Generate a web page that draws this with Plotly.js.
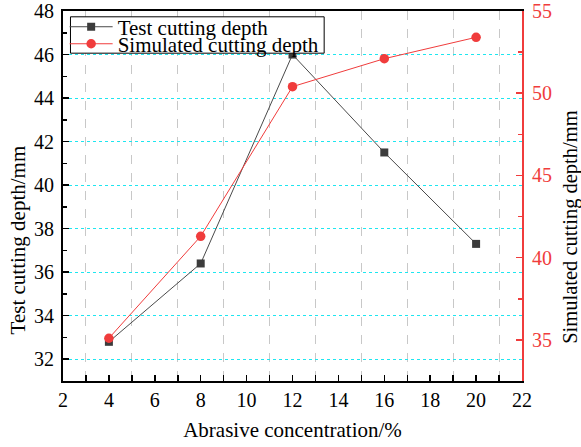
<!DOCTYPE html>
<html>
<head>
<meta charset="utf-8">
<script src="https://cdn.plot.ly/plotly-3.0.1.min.js"></script>
<style>html,body{margin:0;padding:0;background:#fff;}#chart{width:581px;height:447px;}</style>
</head>
<body>
<div id="chart"></div>
<script>
const concentration = [4, 8, 12, 16, 20];
const testDepth = [32.8, 36.4, 46.0, 41.5, 37.3];
const simulatedDepth = [35.1, 41.3, 50.4, 52.1, 53.4];
const seriesNames = ['Test cutting depth', 'Simulated cutting depth'];
const axisTitles = ['Abrasive concentration/%', 'Test cutting depth/mm', 'Simulated cutting depth/mm'];

const serif = '"Liberation Serif", "Times New Roman", serif';
const red = '#f03c3c';

const traces = [
  {
    x: concentration, y: testDepth, name: seriesNames[0], type: 'scatter', mode: 'lines+markers',
    line: {color: '#4a4a4a', width: 1},
    marker: {symbol: 'square', size: 8, color: '#3c3c3c'},
    yaxis: 'y', legend: 'legend'
  },
  {
    x: concentration, y: simulatedDepth, name: seriesNames[1], type: 'scatter', mode: 'lines+markers',
    line: {color: red, width: 1},
    marker: {symbol: 'circle', size: 9.5, color: red},
    yaxis: 'y2', legend: 'legend2'
  }
];

const legendCommon = {
  xanchor: 'left', yanchor: 'middle', x: 0.0036,
  bgcolor: 'rgba(0,0,0,0)', borderwidth: 0,
  font: {family: serif, size: 21, color: '#000'},
  itemwidth: 43
};

const layout = {
  width: 581, height: 447,
  margin: {l: 62.5, r: 59, t: 11, b: 66, autoexpand: false},
  paper_bgcolor: '#fff', plot_bgcolor: '#fff',
  font: {family: serif, size: 20, color: '#000'},
  showlegend: true,
  legend: Object.assign({}, legendCommon, {y: 0.9565}),
  legend2: Object.assign({}, legendCommon, {y: 0.9105}),
  shapes: [{
    type: 'rect', xref: 'paper', yref: 'paper',
    x0: 0.0163, x1: 0.569, y0: 0.886, y1: 0.9843,
    line: {color: '#000', width: 1}, fillcolor: '#fff', layer: 'above'
  }],
  annotations: [
    {text: axisTitles[1], xref: 'paper', yref: 'paper', x: -0.098, y: 0.38,
     xanchor: 'center', yanchor: 'middle', textangle: -90, showarrow: false,
     font: {family: serif, size: 21, color: '#000'}},
    {text: axisTitles[2], xref: 'paper', yref: 'paper', x: 1.104, y: 0.416,
     xanchor: 'center', yanchor: 'middle', textangle: -90, showarrow: false,
     font: {family: serif, size: 20.5, color: '#000'}}
  ],
  xaxis: {
    range: [2, 22], dtick: 2, tick0: 2,
    ticks: 'inside', ticklen: 6, tickwidth: 1.5, tickcolor: '#000',
    showline: true, linecolor: '#000', linewidth: 2, mirror: true,
    showgrid: false, zeroline: false, ticklabelstandoff: 0,
    tickfont: {family: serif, size: 20, color: '#000'},
    title: {text: axisTitles[0], font: {family: serif, size: 21, color: '#000'}, standoff: 12},
    minor: {dtick: 1, ticks: 'inside', ticklen: 6, tickcolor: '#000', showgrid: true, gridcolor: '#c8c8c8', griddash: 'dash', gridwidth: 1}
  },
  yaxis: {
    range: [31, 48], dtick: 2, tick0: 32,
    ticks: 'inside', ticklen: 6, tickwidth: 1.5, tickcolor: '#000',
    showline: true, linecolor: '#000', linewidth: 2,
    showgrid: true, gridcolor: '#1ee6f0', griddash: 'dot', gridwidth: 1,
    zeroline: false, ticklabelstandoff: 3,
    tickfont: {family: serif, size: 20, color: '#000'},
    minor: {dtick: 1, ticks: 'inside', ticklen: 4, tickcolor: '#000', showgrid: false}
  },
  yaxis2: {
    overlaying: 'y', side: 'right', anchor: 'x',
    range: [32.5, 55], dtick: 5, tick0: 35,
    ticks: 'inside', ticklen: 6, tickwidth: 1.5, tickcolor: red,
    showline: true, linecolor: red, linewidth: 2,
    showgrid: false, zeroline: false, ticklabelstandoff: 4,
    tickfont: {family: serif, size: 20, color: red},
    minor: {dtick: 2.5, ticks: 'inside', ticklen: 4, tickcolor: red, showgrid: false}
  }
};

Plotly.newPlot('chart', traces, layout, {displayModeBar: false, staticPlot: true});
</script>
</body>
</html>
